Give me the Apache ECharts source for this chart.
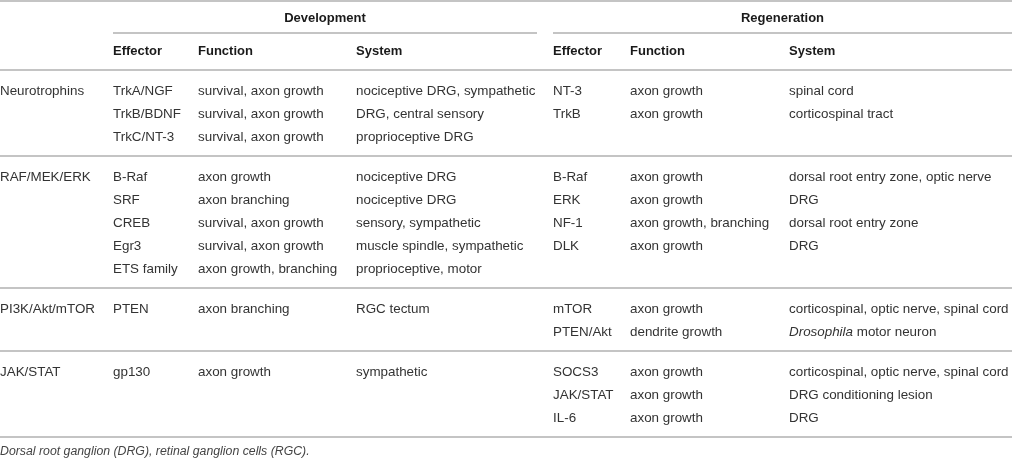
<!DOCTYPE html>
<html>
<head>
<meta charset="utf-8">
<script src="https://cdn.jsdelivr.net/npm/echarts@6/dist/echarts.min.js"></script>
<style>
  html, body { margin: 0; padding: 0; background: #fff; }
  #main { width: 1012px; height: 460px; }
</style>
</head>
<body>
<div id="main"></div>
<script>
// table contents
var pathways = ['Neurotrophins', 'RAF/MEK/ERK', 'PI3K/Akt/mTOR', 'JAK/STAT'];
var sections = ['Development', 'Regeneration'];
var colHeads = ['Effector', 'Function', 'System'];

var devEffector = [['TrkA/NGF', 'TrkB/BDNF', 'TrkC/NT-3'], ['B-Raf', 'SRF', 'CREB', 'Egr3', 'ETS family'], ['PTEN'], ['gp130']];
var devFunction = [['survival, axon growth', 'survival, axon growth', 'survival, axon growth'],
  ['axon growth', 'axon branching', 'survival, axon growth', 'survival, axon growth', 'axon growth, branching'],
  ['axon branching'], ['axon growth']];
var devSystem = [['nociceptive DRG, sympathetic', 'DRG, central sensory', 'proprioceptive DRG'],
  ['nociceptive DRG', 'nociceptive DRG', 'sensory, sympathetic', 'muscle spindle, sympathetic', 'proprioceptive, motor'],
  ['RGC tectum'], ['sympathetic']];

var regEffector = [['NT-3', 'TrkB'], ['B-Raf', 'ERK', 'NF-1', 'DLK'], ['mTOR', 'PTEN/Akt'], ['SOCS3', 'JAK/STAT', 'IL-6']];
var regFunction = [['axon growth', 'axon growth'], ['axon growth', 'axon growth', 'axon growth, branching', 'axon growth'],
  ['axon growth', 'dendrite growth'], ['axon growth', 'axon growth', 'axon growth']];
var regSystem = [['spinal cord', 'corticospinal tract'],
  ['dorsal root entry zone, optic nerve', 'DRG', 'dorsal root entry zone', 'DRG'],
  ['corticospinal, optic nerve, spinal cord', '{i|Drosophila} motor neuron'],
  ['corticospinal, optic nerve, spinal cord', 'DRG conditioning lesion', 'DRG']];

var footnote = 'Dorsal root ganglion (DRG), retinal ganglion cells (RGC).';

// layout
var W = 1012;
var colX = [0, 113, 198, 356, 553, 630, 789];
var sectionSpan = [[113, 537], [553, W]];
var rowH = 23;
var FONT = '"Liberation Sans", Arial, sans-serif';
var BODY = 13.4;
var lineColor = '#c4c4c4';
var textColor = '#333';

var elements = [];

function hline(x1, x2, y) {
  elements.push({
    type: 'line',
    shape: { x1: x1, y1: y, x2: x2, y2: y },
    style: { stroke: lineColor, lineWidth: 2 }
  });
}

function label(txt, x, y, opts) {
  opts = opts || {};
  elements.push({
    type: 'text',
    x: x,
    y: y,
    style: {
      text: txt,
      fontFamily: FONT,
      fontSize: opts.size || BODY,
      fontWeight: opts.bold ? 'bold' : 'normal',
      fontStyle: opts.italic ? 'italic' : 'normal',
      fill: opts.color || textColor,
      align: opts.align || 'left',
      verticalAlign: 'middle',
      rich: { i: { fontStyle: 'italic', fontFamily: FONT, fontSize: BODY, fill: textColor } }
    }
  });
}

// header
hline(0, W, 1);
sections.forEach(function (s, k) {
  var span = sectionSpan[k];
  label(s, (span[0] + span[1]) / 2, 18, { bold: true, size: 13, align: 'center', color: '#1a1a1a' });
  hline(span[0], span[1], 33);
  colHeads.forEach(function (h, j) {
    label(h, colX[1 + k * 3 + j], 51, { bold: true, size: 13, color: '#1a1a1a' });
  });
});
hline(0, W, 70);

// body
var y0 = 70;
pathways.forEach(function (p, g) {
  var cols = [devEffector[g], devFunction[g], devSystem[g], regEffector[g], regFunction[g], regSystem[g]];
  var n = Math.max(devEffector[g].length, regEffector[g].length);
  label(p, colX[0], y0 + 21);
  cols.forEach(function (list, c) {
    list.forEach(function (txt, r) {
      label(txt, colX[c + 1], y0 + 21 + r * rowH);
    });
  });
  y0 += n * rowH + 17;
  hline(0, W, y0);
});

label(footnote, 0, y0 + 15, { italic: true, size: 12.3, color: '#444' });

var myChart = echarts.init(document.getElementById('main'));
myChart.setOption({
  backgroundColor: '#fff',
  animation: false,
  graphic: { elements: elements }
});
</script>
</body>
</html>
